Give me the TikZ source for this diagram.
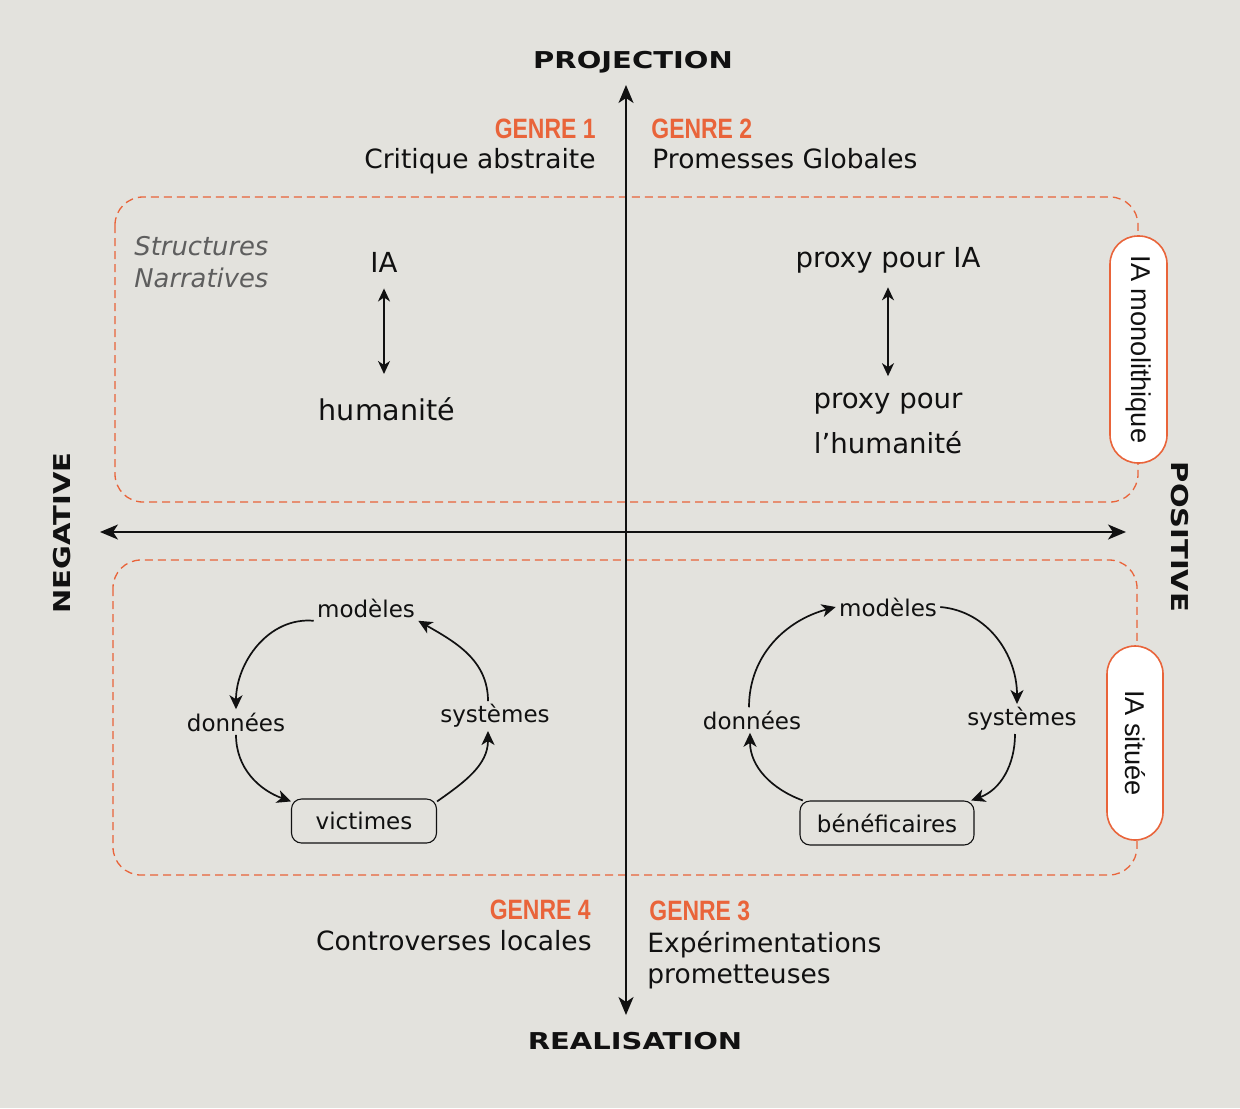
\documentclass[tikz,border=0pt]{standalone}
\usepackage{fontspec}
\setmainfont{DejaVu Sans}
\newfontfamily\genrefont[FakeStretch=0.82]{Liberation Sans}
\newfontfamily\axisfont[FakeStretch=1.25]{DejaVu Sans}
\newfontfamily\pillfont{Liberation Sans}
\usetikzlibrary{arrows.meta}
\definecolor{bgcol}{HTML}{E3E2DD}
\definecolor{genreorange}{HTML}{E9643A}
\definecolor{inkblack}{HTML}{111111}
\definecolor{notegray}{HTML}{5E5E5E}
\begin{document}
\begin{tikzpicture}[x=0.5pt, y=-0.5pt,
    axislabel/.style={font=\axisfont\bfseries\fontsize{11.6}{14}\selectfont, text=inkblack},
    genre/.style={font=\genrefont\bfseries\fontsize{14}{16}\selectfont, text=genreorange, inner sep=0pt},
    genretext/.style={font=\fontsize{13.25}{15.5}\selectfont, text=inkblack, inner sep=0pt, align=left},
    note/.style={font=\itshape\fontsize{12.9}{16}\selectfont, text=notegray, inner sep=0pt, align=left},
    zone/.style={draw=genreorange, dash pattern=on 4pt off 2.5pt, line width=0.65pt, rounded corners=14pt},
    pill/.style={draw=genreorange, fill=white, line width=0.8pt, rounded corners=14pt, font=\pillfont\fontsize{13.6}{16}\selectfont, text=inkblack, rotate=-90},
    term/.style={font=\fontsize{13.8}{22.5}\selectfont, text=inkblack, inner sep=3pt, align=center},
    cyc/.style={font=\fontsize{11.5}{14}\selectfont, text=inkblack, inner sep=1.5pt},
    cycbox/.style={cyc, draw=inkblack, line width=0.55pt, rounded corners=5pt, minimum height=22pt, inner xsep=6.5pt},
    axis/.style={draw=inkblack, line width=1pt, >={Stealth[length=9pt,width=7.5pt,inset=2.5pt]}, <->},
    link/.style={draw=inkblack, line width=0.85pt, -{Stealth[length=7pt,width=6.5pt,inset=2pt]}},
    twoway/.style={draw=inkblack, line width=0.8pt, >={Stealth[length=6.5pt,width=6pt,inset=2pt]}, <->}
  ]
    \fill[bgcol] (0,0) rectangle (1240,1108);
    \useasboundingbox (0,0) rectangle (1240,1108);

    \draw[zone] (115,197) rectangle (1138,502);
    \draw[zone] (113,560) rectangle (1137,875);
    \node[pill, minimum width=113.5pt, minimum height=28.5pt] (mono) at (1138.5,349.5) {IA monolithique};
    \node[pill, minimum width=97pt, minimum height=28pt] (situ) at (1135,743) {IA située};

    % axes
    \coordinate (ytop) at (626,85);
    \coordinate (ybot) at (626,1015);
    \coordinate (xleft) at (100,532);
    \coordinate (xright) at (1126,532);
    \draw[axis] (ytop) -- (ybot);
    \draw[axis] (xleft) -- (xright);
    \node[axislabel] (proj) at (633,62) {PROJECTION};
    \node[axislabel] (real) at (635,1041) {REALISATION};
    \node[axislabel, rotate=90] (neg) at (62,533) {NEGATIVE};
    \node[axislabel, rotate=-90] (pos) at (1180,537) {POSITIVE};

    \node[genre, anchor=base east] (g1) at (596,138) {GENRE 1};
    \node[genretext, anchor=base east] (t1) at (596,168) {Critique abstraite};
    \node[genre, anchor=base west] (g2) at (651,138) {GENRE 2};
    \node[genretext, anchor=base west] (t2) at (652,168) {Promesses Globales};
    \node[genre, anchor=base east] (g4) at (591,919) {GENRE 4};
    \node[genretext, anchor=base east] (t4) at (592,950) {Controverses locales};
    \node[genre, anchor=base west] (g3) at (649,920) {GENRE 3};
    \node[genretext, anchor=north west] (t3) at (647,931) {Expérimentations\\prometteuses};

    \node[note, anchor=north west] (sn) at (134,236) {Structures\\Narratives};

    % upper quadrants
    \node[term] (ia) at (384,262) {IA};
    \node[term, font=\fontsize{14.3}{22.5}\selectfont] (hum) at (387,409) {humanité};
    \draw[twoway, shorten <=5pt, shorten >=8.5pt] (ia.south) -- (ia.south |- hum.north);
    \node[term] (pia) at (888,260) {proxy pour IA};
    \node[term] (phum) at (888,423) {proxy pour\\l’humanité};
    \draw[twoway, shorten <=4pt, shorten >=5pt] (pia.south) -- (phum.north);

    % lower left cycle
    \node[cyc] (lmod) at (366,608) {modèles};
    \node[cyc] (ldon) at (236,722) {données};
    \node[cyc] (lsys) at (495,716) {systèmes};
    \node[cycbox, minimum width=72.5pt] (lvic) at (364,821) {victimes};
    \draw[link] (lmod.south west) to[out=175, in=90] (ldon.north);
    \draw[link] (ldon.south) to[out=-90, in=160] (lvic.165);
    \draw[link] (lvic.15) to[out=35, in=-90] ([xshift=-3.5pt]lsys.south);
    \draw[link] ([xshift=-3.5pt]lsys.north) to[out=90, in=-30] (lmod.south east);

    % lower right cycle
    \node[cyc] (rmod) at (888,607) {modèles};
    \node[cyc] (rdon) at (752,720) {données};
    \node[cyc] (rsys) at (1022,719) {systèmes};
    \node[cycbox, minimum width=87pt] (rben) at (887,823) {bénéficaires};
    \draw[link] ([xshift=-1.5pt]rdon.north) to[out=90, in=195] (rmod.west);
    \draw[link] (rmod.east) to[out=-5, in=90] ([xshift=-2.5pt]rsys.north);
    \draw[link] ([xshift=-3.5pt]rsys.south) to[out=-90, in=20] (rben.15);
    \draw[link] (rben.165) to[out=160, in=-90] ([xshift=-1pt]rdon.south);
\end{tikzpicture}
\end{document}
